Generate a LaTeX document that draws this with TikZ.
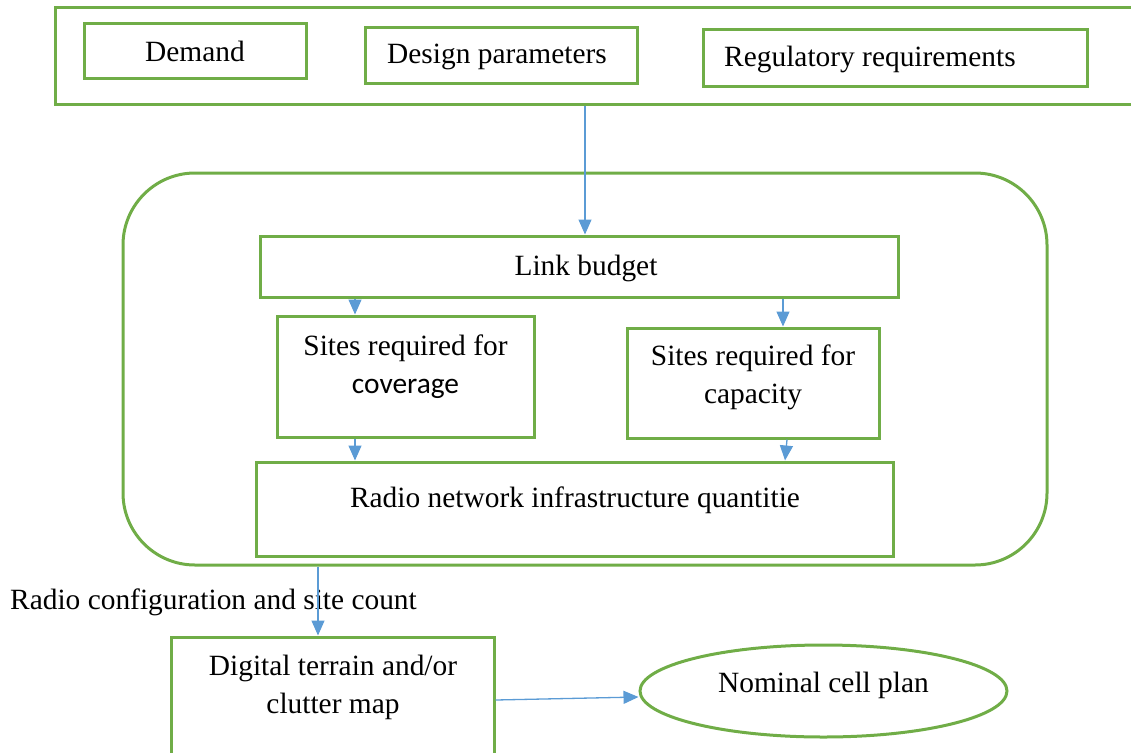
\documentclass[tikz,border=0pt]{standalone}
\usepackage{fontspec}
\setmainfont{Liberation Serif}
\newfontfamily\carlitofont{Carlito}
\usetikzlibrary{arrows.meta,shapes.geometric}
\definecolor{boxgreen}{HTML}{70AD47}
\definecolor{arrowblue}{HTML}{5B9BD5}
\tikzset{
  greenbox/.style={draw=boxgreen, line width=3pt, rectangle, inner sep=0pt},
  txt/.style={inner sep=0pt, align=center, font=\fontsize{29.4}{38}\selectfont},
  flow/.style={draw=arrowblue, line width=1.3pt, -{Triangle[length=15pt,width=13pt]}},
}
\begin{document}
\begin{tikzpicture}[x=1pt,y=-1pt]
\useasboundingbox (0,0) rectangle (1131,752);

% input block
\node[greenbox, minimum width=1085pt, minimum height=96pt] (inputs) at (597.5,56) {};
\node[greenbox, minimum width=222pt, minimum height=54pt] (demand) at (195,51) {};
\node[txt] (demandtext) at (195,51.5) {Demand};
\node[greenbox, minimum width=272pt, minimum height=55pt] (design) at (501,55.5) {};
\node[txt] (designtext) at (497,56.5) {Design parameters};
\node[greenbox, minimum width=384pt, minimum height=56pt] (regul) at (895,58) {};
\node[txt, anchor=west] (regultext) at (724,59.5) {Regulatory requirements};

% dimensioning block
\node[draw=boxgreen, line width=3pt, rounded corners=72pt, minimum width=924pt, minimum height=392pt] (dim) at (585,369) {};
\node[greenbox, minimum width=638pt, minimum height=61pt] (lb) at (579,266.5) {};
\node[txt] (lbtext) at (586,268) {Link budget};
\node[greenbox, minimum width=257pt, minimum height=121pt] (cov) at (405.5,376.5) {};
\node[txt] (covtext) at (405.5,367) {Sites required for\\{\carlitofont coverage}};
\node[greenbox, minimum width=252pt, minimum height=110pt] (cap) at (753,383) {};
\node[txt] (captext) at (753,377.5) {Sites required for\\capacity};
\node[greenbox, minimum width=637pt, minimum height=94pt] (rni) at (574.5,509) {};
\node[txt] (rnitext) at (575,500) {Radio network infrastructure quantitie};

% planning outputs
\node[txt, anchor=west] (rcfg) at (10,602) {Radio configuration and site count};
\node[greenbox, minimum width=323pt, minimum height=125pt] (dtm) at (332.5,699.5) {};
\node[txt] (dtmtext) at (333,687.5) {Digital terrain and/or\\clutter map};
\node[ellipse, draw=boxgreen, line width=3pt, minimum width=367pt, minimum height=92pt, inner sep=0pt] (ncp) at (823.5,691) {};
\node[txt] (ncptext) at (823.5,685) {Nominal cell plan};

% connectors
\draw[flow] (inputs.south -| 585,0) -- (lb.north -| 585,0);
\draw[flow] (lb.south -| 355,0) -- (cov.north -| 355,0);
\draw[flow] (lb.south -| 783,0) -- (cap.north -| 783,0);
\draw[flow] (cov.south -| 355,0) -- (rni.north -| 355,0);
\draw[flow] (cap.south -| 787,0) -- (rni.north -| 785,0);
\draw[flow] (dim.south -| 318,0) -- (dtm.north -| 318,0);
\draw[flow] (dtm.east |- 0,700) -- (ncp.west |- 0,697);
\end{tikzpicture}
\end{document}
